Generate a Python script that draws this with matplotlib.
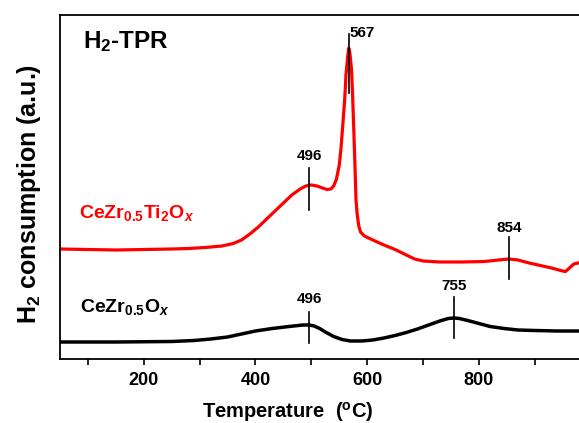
import matplotlib
matplotlib.use("Agg")
import matplotlib.pyplot as plt
from matplotlib.ticker import MultipleLocator

plt.rcParams['font.family'] = ['Liberation Sans', 'DejaVu Sans']
plt.rcParams['font.weight'] = 'bold'
plt.rcParams['mathtext.fontset'] = 'custom'
plt.rcParams['mathtext.rm'] = 'Liberation Sans:bold'
plt.rcParams['mathtext.it'] = 'Liberation Sans:bold:italic'
plt.rcParams['mathtext.bf'] = 'Liberation Sans:bold'

# CeZr0.5Ti2Ox trace (temperature in C, signal in a.u.)
ti_temp = [50, 100, 150, 200, 250, 280, 310, 340, 360, 375, 390, 405, 420, 435,
           450, 465, 480, 490, 500, 510, 520, 528, 535, 540, 545, 550, 553, 557,
           560, 562, 565, 567, 569, 571, 572, 574, 576, 578, 580, 582, 585, 588,
           595, 610, 630, 650, 670, 685, 700, 730, 770, 810, 835, 854, 870, 890,
           910, 930, 950, 955, 962, 970, 985]
ti_signal = [110, 109.5, 109, 109.5, 110, 110.5, 111.5, 113, 115.5, 119, 125, 132, 140, 148,
             156, 164, 170, 173, 174, 173, 171, 169.5, 170, 173, 180, 194, 210, 239,
             262, 284, 302, 311, 306, 295, 289, 262, 229, 195, 159, 145, 133, 127,
             123, 119, 114, 109.5, 104, 100, 98, 97, 97, 97.5, 99, 100, 99, 96,
             93.5, 91, 88, 87.5, 91, 95, 97]

# CeZr0.5Ox trace
ce_temp = [50, 150, 250, 290, 320, 350, 375, 400, 430, 460, 485, 496, 505, 515,
           525, 540, 555, 570, 590, 610, 630, 650, 670, 690, 710, 730, 745, 755,
           765, 780, 800, 820, 845, 870, 900, 940, 985]
ce_signal = [17, 17, 17.5, 18.5, 20, 22, 25, 28, 30.5, 32.5, 34, 34, 33, 30.5,
             27, 22.5, 19.5, 18, 18, 19, 21, 23.5, 26.5, 30, 34, 38, 40.5, 41,
             40.5, 38.5, 35.5, 32.5, 30.5, 29, 28.5, 28, 28]

# peak markers: temperature, line bottom, line top, label y
ti_peaks = [496, 567, 854]
ti_peak_lo = [149, 266, 80]
ti_peak_hi = [191, 325, 122]
ti_peak_txt = [203, 326, 131]
ce_peaks = [496, 755]
ce_peak_lo = [16, 21]
ce_peak_hi = [47, 62]
ce_peak_txt = [60, 73]

x_ticks = [200, 400, 600, 800]

fig = plt.figure(figsize=(5.79, 4.23), dpi=100)
ax = fig.add_axes([60 / 579, 1 - 359 / 423, 530.6 / 579, 344 / 423])

ax.plot(ti_temp, ti_signal, color='#ff0000', lw=2.3)
ax.plot(ce_temp, ce_signal, color='black', lw=2.5)

for t, lo, hi, ty in zip(ti_peaks, ti_peak_lo, ti_peak_hi, ti_peak_txt):
    ax.plot([t, t], [lo, hi], color='black', lw=1.2)
    if t == 567:
        ax.text(t + 1, ty, str(t), ha='left', va='center', fontsize=11, fontweight='bold')
    else:
        ax.text(t, ty, str(t), ha='center', va='center', fontsize=11, fontweight='bold')
for t, lo, hi, ty in zip(ce_peaks, ce_peak_lo, ce_peak_hi, ce_peak_txt):
    ax.plot([t, t], [lo, hi], color='black', lw=1.2)
    ax.text(t, ty, str(t), ha='center', va='center', fontsize=11, fontweight='bold')

ax.text(91, 317, r'H$_2$-TPR', ha='left', va='center', fontsize=17.5, fontweight='bold')
ax.text(84, 146, r'CeZr$_{0.5}$Ti$_2$O$_x$', ha='left', va='center', fontsize=14,
        fontweight='bold', color='#ff0000')
ax.text(86, 52, r'CeZr$_{0.5}$O$_x$', ha='left', va='center', fontsize=14,
        fontweight='bold', color='black')

ax.set_xlim(50, 1000)
ax.set_ylim(0, 344)
ax.set_xticks(x_ticks)
ax.xaxis.set_minor_locator(MultipleLocator(100))
ax.set_yticks([])
ax.tick_params(axis='x', which='both', direction='out', length=4, width=1.2,
               labelsize=13, pad=5)
for lab in ax.get_xticklabels():
    lab.set_fontweight('bold')
for sp in ax.spines.values():
    sp.set_linewidth(1.3)

ax.set_xlabel(r'Temperature  ($^{\mathrm{o}}$C)', fontsize=14.5, fontweight='bold')
ax.xaxis.set_label_coords((288 - 60) / 530.6, -0.12)
ax.set_ylabel(r'H$_2$ consumption (a.u.)', fontsize=18, fontweight='bold')
ax.yaxis.set_label_coords(-0.032, 0.48)

fig.savefig('out.png', dpi=100)
